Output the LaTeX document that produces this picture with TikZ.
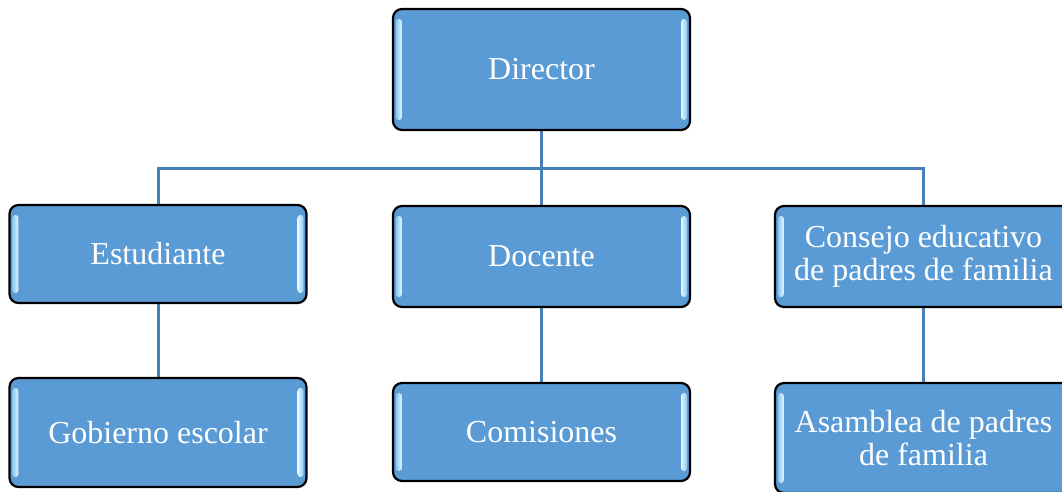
\documentclass[tikz,border=0pt]{standalone}
\usepackage{fontspec}
\setmainfont{Liberation Serif}
\usetikzlibrary{calc, backgrounds}
\definecolor{boxblue}{RGB}{91,155,213}
\definecolor{linkblue}{RGB}{70,128,185}
\definecolor{glowblue}{RGB}{140,200,240}
\definecolor{glowwhite}{RGB}{228,246,255}

\tikzset{
  orgbox/.style={draw=black, line width=2.2pt, fill=boxblue, rounded corners=9pt,
    minimum width=297pt, inner sep=0pt, align=center, text=white,
    font=\fontsize{32}{33}\selectfont},
  link/.style={draw=linkblue, line width=3pt},
  glow/.style={rounded corners=3pt}
}

\begin{document}
\begin{tikzpicture}[x=1pt, y=-1pt]
  \clip (0,0) rectangle (1062,492);

  \node[orgbox, minimum height=121pt] (dir) at (541.5,69.5) {Director};

  \node[orgbox, minimum height=98pt] (est) at (158,254) {Estudiante};
  \node[orgbox, minimum height=101pt] (doc) at (541.5,256.5) {Docente};
  \node[orgbox, minimum height=101pt] (con) at (923.5,256.5) {Consejo educativo\\de padres de familia};

  \node[orgbox, minimum height=109pt] (gob) at (158,432.5) {Gobierno escolar};
  \node[orgbox, minimum height=98pt] (com) at (541.5,432) {Comisiones};
  \node[orgbox, minimum height=110pt] (asa) at (923.5,438) {Asamblea de padres\\de familia};

  \coordinate (bar) at (541.5,168);

  % glossy side strips
  \foreach \n in {dir,est,doc,con,gob,com,asa} {
    \shade[glow, left color=glowblue, right color=glowwhite]
      ($(\n.north west)+(4,11)$) rectangle ($(\n.south west)+(10,-11)$);
    \shade[glow, left color=glowwhite, right color=glowblue]
      ($(\n.north east)+(-10,11)$) rectangle ($(\n.south east)+(-4,-11)$);
  }

  \begin{scope}[on background layer]
    \draw[link] (dir.south) -- (doc.north);
    \draw[link] (est.north) |- (bar) -| (con.north);
    \draw[link] (est.south) -- (gob.north);
    \draw[link] (doc.south) -- (com.north);
    \draw[link] (con.south) -- (asa.north);
  \end{scope}
\end{tikzpicture}
\end{document}
